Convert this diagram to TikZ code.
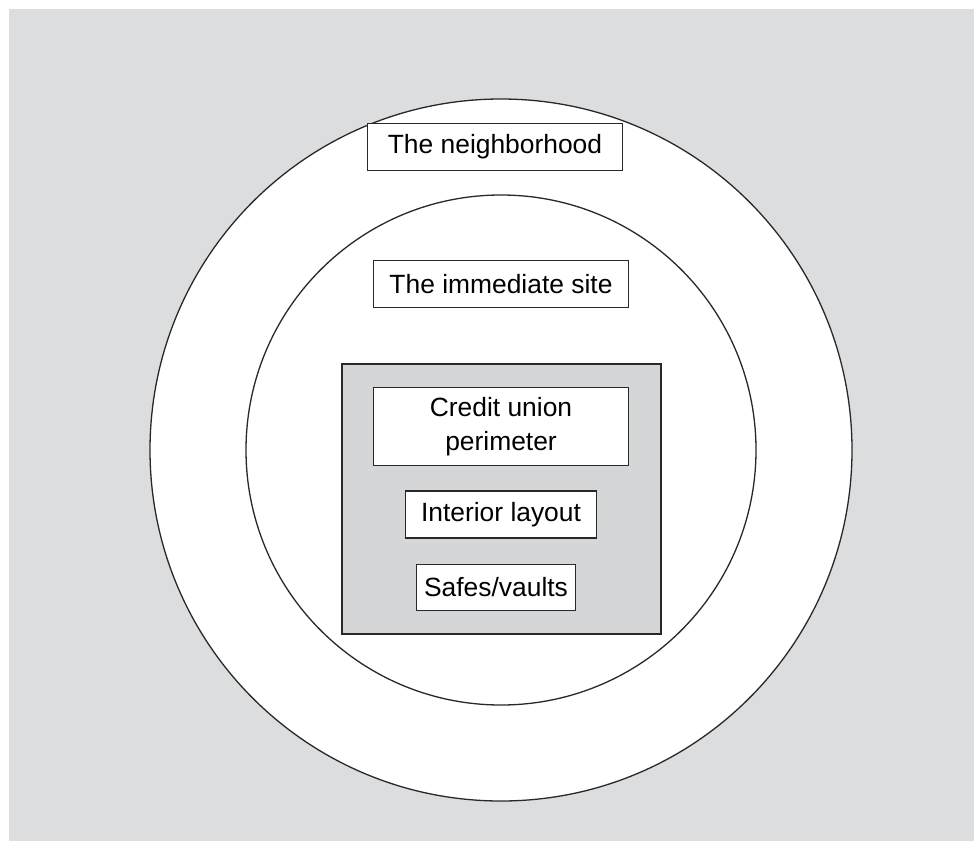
\documentclass[tikz,border=0pt]{standalone}
\usepackage{fontspec}
\setmainfont{Liberation Sans}
\usepackage{tikz}
\usetikzlibrary{positioning}

\definecolor{paneGray}{RGB}{220,221,223}
\definecolor{coreGray}{RGB}{213,214,216}
\definecolor{lineGray}{RGB}{40,40,40}

\begin{document}
\begin{tikzpicture}[x=1pt,y=-1pt,
    label box/.style={draw=lineGray,line width=1.3pt,fill=white,inner sep=0pt,
      font=\fontsize{26.4}{34}\selectfont,align=center}]
  \useasboundingbox (0,0) rectangle (974,841);
  \fill [paneGray] (9,9) rectangle (974,841);
  \coordinate (c) at (501,450);
  \draw [lineGray,line width=1.3pt,fill=white] (c) circle [radius=351];
  \draw [lineGray,line width=1.3pt] (c) circle [radius=255];
  \draw [lineGray,line width=1.3pt,fill=coreGray] (342,364) rectangle (661,634);
  \node [label box,minimum width=255,minimum height=47] (neighborhood) at (495,147) {The neighborhood};
  \node [label box,minimum width=255,minimum height=47] (site) at (501,284) {The immediate site};
  \node [label box,minimum width=255,minimum height=78] (perimeter) at (501,426.5) {Credit union\\perimeter};
  \node [label box,minimum width=191,minimum height=47] (layout) at (501,514.5) {Interior layout};
  \node [label box,minimum width=159,minimum height=46] (vaults) at (496,587.5) {Safes/vaults};
\end{tikzpicture}
\end{document}
